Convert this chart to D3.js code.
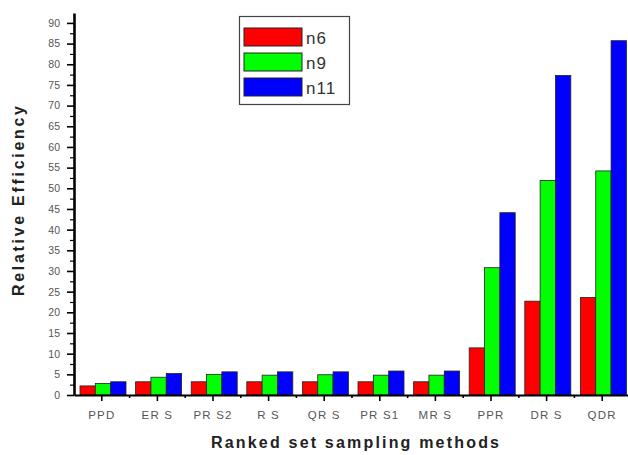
<!DOCTYPE html>
<html>
<head>
<meta charset="utf-8">
<script src="https://cdn.jsdelivr.net/npm/d3@7"></script>
<style>
  html, body { margin: 0; padding: 0; background: #fff; }
  svg { display: block; }
</style>
</head>
<body>
<svg id="chart" width="628" height="455"></svg>
<script>
// Ranked set sampling methods and their relative efficiencies
const methods = ["PPD", "ERS", "PRS2", "RS", "QRS", "PRS1", "MRS", "PPR", "DRS", "QDR"];
const tickLabels = ["PPD", "ER S", "PR S2", "R S", "QR S", "PR S1", "MR S", "PPR", "DR S", "QDR"];
const seriesNames = ["n6", "n9", "n11"];
const n6  = [2.2, 3.2, 3.2, 3.2, 3.2, 3.2, 3.2, 11.4, 22.7, 23.6];
const n9  = [2.8, 4.3, 5.0, 4.8, 4.9, 4.8, 4.8, 30.8, 51.9, 54.2];
const n11 = [3.2, 5.2, 5.6, 5.6, 5.6, 5.8, 5.8, 44.1, 77.3, 85.7];
const yTicks = [0, 5, 10, 15, 20, 25, 30, 35, 40, 45, 50, 55, 60, 65, 70, 75, 80, 85, 90];
const colors = ["#ff0000", "#00ff00", "#0000ff"];

const seriesValues = [n6, n9, n11];
const rows = methods.map((m, i) => ({
  method: m,
  values: seriesNames.map((s, j) => ({ series: s, value: seriesValues[j][i] }))
}));

const svg = d3.select("#chart");
const plotLeft = 74, plotRight = 630, plotTop = 13, plotBottom = 395;

const x0 = d3.scaleBand().domain(methods).range([plotLeft, plotRight]).padding(0);
const x1 = d3.scaleBand().domain(seriesNames).range([6, 52]).padding(0);
const y = d3.scaleLinear().domain([0, 92.4]).range([plotBottom, plotTop]);
const color = d3.scaleOrdinal().domain(seriesNames).range(colors);

// Bars
const groups = svg.append("g").selectAll("g")
  .data(rows).join("g")
  .attr("transform", d => `translate(${x0(d.method)},0)`);

groups.selectAll("rect")
  .data(d => d.values).join("rect")
  .attr("x", d => x1(d.series))
  .attr("y", d => y(d.value))
  .attr("width", x1.bandwidth())
  .attr("height", d => y(0) - y(d.value))
  .attr("fill", d => color(d.series))
  .attr("stroke", "#222")
  .attr("stroke-width", 0.8);

// Y axis: major ticks every 5, minor ticks halfway between
const yMinor = d3.range(2.5, 92.4, 5);
svg.append("g")
  .attr("transform", `translate(${plotLeft},0)`)
  .call(d3.axisLeft(y).tickValues(yMinor).tickSize(4).tickFormat(""))
  .call(g => g.select(".domain").remove())
  .call(g => g.selectAll("line").attr("stroke", "#000").attr("stroke-width", 1.2));

const yAxis = svg.append("g")
  .attr("transform", `translate(${plotLeft},0)`)
  .call(d3.axisLeft(y).tickValues(yTicks).tickSize(7).tickPadding(7).tickSizeOuter(0));
yAxis.select(".domain").attr("stroke", "#000").attr("stroke-width", 2.6);
yAxis.selectAll(".tick line").attr("stroke", "#000").attr("stroke-width", 1.6);
yAxis.selectAll(".tick text")
  .attr("fill", "#555")
  .style("font-family", "'Liberation Sans', Arial, sans-serif")
  .style("font-size", "10.5px");

// X axis: small marks at group boundaries
svg.append("g")
  .attr("transform", `translate(0,${plotBottom})`)
  .call(d3.axisBottom(x0).tickValues(methods.slice(1)).tickSize(3).tickFormat(""))
  .call(g => g.select(".domain").remove())
  .call(g => g.selectAll(".tick").attr("transform", d => `translate(${x0(d)},0)`))
  .call(g => g.selectAll("line").attr("stroke", "#000").attr("stroke-width", 1.6));

// X axis: ticks and labels at group centres
const xAxis = svg.append("g")
  .attr("transform", `translate(0,${plotBottom})`)
  .call(d3.axisBottom(x0).tickSize(6).tickPadding(10).tickSizeOuter(0)
    .tickFormat((d, i) => tickLabels[i]));
xAxis.select(".domain").attr("stroke", "#000").attr("stroke-width", 2);
xAxis.selectAll(".tick line").attr("stroke", "#000").attr("stroke-width", 1.6);
xAxis.selectAll(".tick text")
  .attr("fill", "#555")
  .style("font-family", "'Liberation Sans', Arial, sans-serif")
  .style("font-size", "11.5px")
  .style("letter-spacing", "1.2px");

// Axis titles
svg.append("text")
  .attr("transform", "translate(24,201) rotate(-90)")
  .attr("text-anchor", "middle")
  .attr("textLength", 190)
  .attr("lengthAdjust", "spacing")
  .style("font-family", "'Liberation Sans', Arial, sans-serif")
  .style("font-weight", "bold")
  .style("font-size", "16px")
  .attr("fill", "#222")
  .text("Relative Efficiency");

svg.append("text")
  .attr("x", 355)
  .attr("y", 448)
  .attr("text-anchor", "middle")
  .attr("textLength", 288)
  .attr("lengthAdjust", "spacing")
  .style("font-family", "'Liberation Sans', Arial, sans-serif")
  .style("font-weight", "bold")
  .style("font-size", "16px")
  .attr("fill", "#222")
  .text("Ranked set sampling methods");

// Legend
const legend = svg.append("g");
legend.append("rect")
  .attr("x", 239.5).attr("y", 16.5)
  .attr("width", 110).attr("height", 88)
  .attr("fill", "#fff")
  .attr("stroke", "#444").attr("stroke-width", 1.2);

const items = legend.selectAll("g.item")
  .data(seriesNames).join("g")
  .attr("class", "item")
  .attr("transform", (d, i) => `translate(244,${28 + i * 25})`);

items.append("rect")
  .attr("width", 58).attr("height", 18)
  .attr("fill", d => color(d))
  .attr("stroke", "#222").attr("stroke-width", 1);

items.append("text")
  .attr("x", 62).attr("y", 15.5)
  .style("font-family", "'Liberation Sans Narrow', 'Arial Narrow', sans-serif")
  .style("font-size", "17px")
  .style("letter-spacing", "1px")
  .attr("fill", "#333")
  .text(d => d);
</script>
</body>
</html>
